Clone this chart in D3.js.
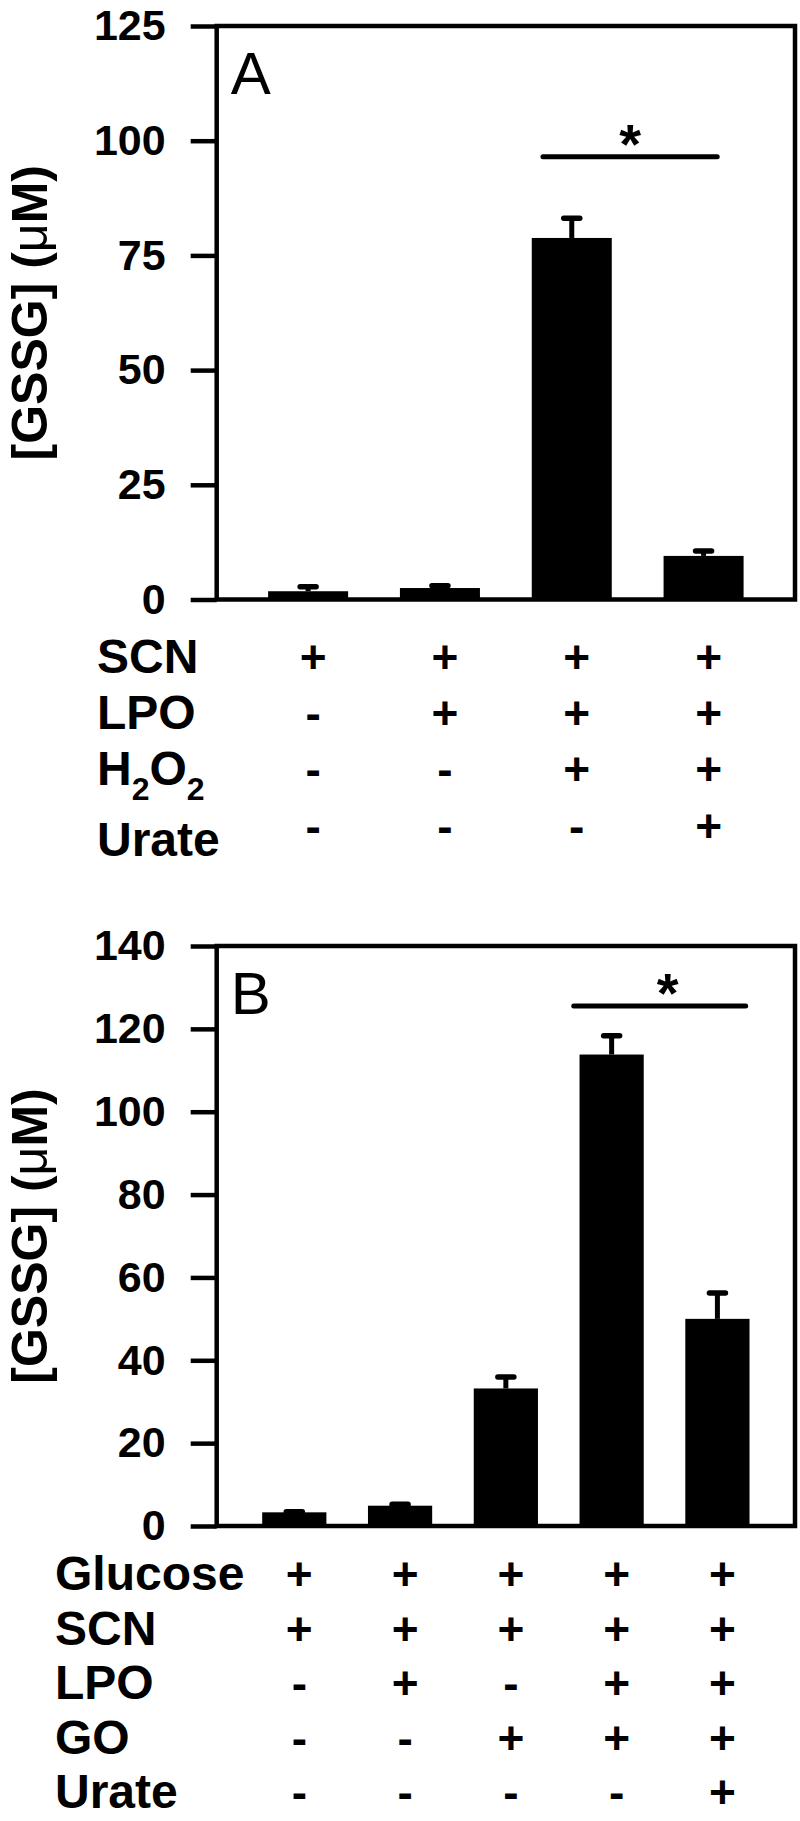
<!DOCTYPE html>
<html>
<head>
<meta charset="utf-8">
<script src="https://cdn.jsdelivr.net/npm/d3@7"></script>
<style>
  body { margin: 0; background: #fff; }
  text { font-family: "Liberation Sans", Arial, sans-serif; fill: #000; }
</style>
</head>
<body>
<svg id="chart" width="800" height="1821"></svg>
<script>
// panel A data
const catsA = ["a1", "a2", "a3", "a4"];
const meanA = [1.8, 2.5, 78.8, 9.5];
const errA = [1.2, 0.7, 4.5, 1.3];
const ticksA = [0, 25, 50, 75, 100, 125];
const rowsA = ["SCN", "LPO", "H2O2", "Urate"];
const signsA = [
  ["+", "+", "+", "+"],
  ["-", "+", "+", "+"],
  ["-", "-", "+", "+"],
  ["-", "-", "-", "+"]
];
const sigA = { from: 2, to: 3, level: 96.5 };

// panel B data
const catsB = ["b1", "b2", "b3", "b4", "b5"];
const meanB = [3.3, 4.9, 33.2, 113.8, 50.0];
const errB = [0.4, 0.6, 3.0, 4.8, 6.5];
const ticksB = [0, 20, 40, 60, 80, 100, 120, 140];
const rowsB = ["Glucose", "SCN", "LPO", "GO", "Urate"];
const signsB = [
  ["+", "+", "+", "+", "+"],
  ["+", "+", "+", "+", "+"],
  ["-", "+", "-", "+", "+"],
  ["-", "-", "+", "+", "+"],
  ["-", "-", "-", "-", "+"]
];
const sigB = { from: 3, to: 4, level: 125.5 };

const svg = d3.select("#chart");
const lw = 4.5;

function drawPanel(p) {
  const g = svg.append("g");

  const x = d3.scaleBand()
    .domain(p.cats)
    .range([p.left, p.right])
    .paddingInner(0.393)
    .paddingOuter(p.outer);

  const y = d3.scaleLinear()
    .domain([0, d3.max(p.ticks)])
    .range([p.bottom, p.top]);

  // y axis ticks + labels
  const axis = g.append("g")
    .attr("transform", `translate(${p.left},0)`)
    .call(d3.axisLeft(y).tickValues(p.ticks).tickSize(26).tickPadding(25));
  axis.select(".domain").remove();
  axis.selectAll(".tick line")
    .attr("stroke", "#000")
    .attr("stroke-width", lw);
  axis.selectAll(".tick text")
    .attr("fill", "#000")
    .style("font-family", "'Liberation Sans', Arial, sans-serif")
    .style("font-size", "43px")
    .style("font-weight", "bold");

  // bars
  g.selectAll(".bar")
    .data(p.mean)
    .enter()
    .append("rect")
    .attr("x", (d, i) => x(p.cats[i]))
    .attr("y", d => y(d))
    .attr("width", x.bandwidth())
    .attr("height", d => y(0) - y(d))
    .attr("fill", "#000");

  // error bars
  const cx = i => x(p.cats[i]) + x.bandwidth() / 2;
  g.selectAll(".stem")
    .data(p.mean)
    .enter()
    .append("line")
    .attr("x1", (d, i) => cx(i))
    .attr("x2", (d, i) => cx(i))
    .attr("y1", d => y(d))
    .attr("y2", (d, i) => y(d + p.err[i]))
    .attr("stroke", "#000")
    .attr("stroke-width", 5);
  g.selectAll(".cap")
    .data(p.mean)
    .enter()
    .append("line")
    .attr("x1", (d, i) => cx(i) - 8)
    .attr("x2", (d, i) => cx(i) + 8)
    .attr("y1", (d, i) => y(d + p.err[i]) + 1)
    .attr("y2", (d, i) => y(d + p.err[i]) + 1)
    .attr("stroke", "#000")
    .attr("stroke-width", 5.5)
    .attr("stroke-linecap", "round");

  // frame
  g.append("rect")
    .attr("x", p.left)
    .attr("y", y(d3.max(p.ticks)))
    .attr("width", p.right - p.left)
    .attr("height", y(0) - y(d3.max(p.ticks)))
    .attr("fill", "none")
    .attr("stroke", "#000")
    .attr("stroke-width", lw);

  // significance bar
  const sx0 = x(p.cats[p.sig.from]) + p.sigFrac[0] * x.bandwidth();
  const sx1 = x(p.cats[p.sig.to]) + p.sigFrac[1] * x.bandwidth();
  g.append("line")
    .attr("x1", sx0)
    .attr("x2", sx1)
    .attr("y1", y(p.sig.level))
    .attr("y2", y(p.sig.level))
    .attr("stroke", "#000")
    .attr("stroke-width", 5)
    .attr("stroke-linecap", "round");
  g.append("text")
    .attr("x", (sx0 + sx1) / 2 + p.starShift)
    .attr("y", y(p.sig.level) + 6)
    .attr("text-anchor", "middle")
    .style("font-size", "56px")
    .style("font-weight", "bold")
    .text("*");

  // panel letter
  g.append("text")
    .attr("x", p.left + 14)
    .attr("y", p.top + 68)
    .style("font-size", "60px")
    .text(p.letter);

  // y axis title
  const yt = g.append("text")
    .attr("transform", `translate(47,${(p.top + p.bottom) / 2}) rotate(-90)`)
    .attr("text-anchor", "middle")
    .style("font-size", "50px")
    .style("font-weight", "bold");
  yt.append("tspan").text("[GSSG] (");
  yt.append("tspan").style("font-weight", "normal").text("\u03bc");
  yt.append("tspan").text("M)");

  // condition table
  p.rows.forEach((name, r) => {
    const by = p.bottom + p.rowStart + r * p.rowGap;
    const lab = g.append("text")
      .attr("x", p.labelX)
      .attr("y", by + (p.labelShift[r] || 0))
      .style("font-size", "48px")
      .style("font-weight", "bold");
    if (name === "H2O2") {
      lab.append("tspan").text("H");
      lab.append("tspan").attr("dy", 15).style("font-size", "32px").text("2");
      lab.append("tspan").attr("dy", -15).text("O");
      lab.append("tspan").attr("dy", 15).style("font-size", "32px").text("2");
    } else {
      lab.text(name);
    }
    g.selectAll(null)
      .data(p.signs[r])
      .enter()
      .append("text")
      .attr("x", (d, i) => cx(i) + 5)
      .attr("y", by)
      .attr("text-anchor", "middle")
      .style("font-size", "46px")
      .style("font-weight", "bold")
      .text(d => d);
  });
}

drawPanel({
  letter: "A", cats: catsA, mean: meanA, err: errA, ticks: ticksA,
  rows: rowsA, signs: signsA, sig: sigA, sigFrac: [0.14, 0.67], starShift: 0,
  left: 216.7, right: 795, top: 26, bottom: 599.5, outer: 0.39,
  labelX: 97, rowStart: 73, rowGap: 56.4, labelShift: { 3: 14 }
});

drawPanel({
  letter: "B", cats: catsB, mean: meanB, err: errB, ticks: ticksB,
  rows: rowsB, signs: signsB, sig: sigB, sigFrac: [-0.09, 0.94], starShift: 8,
  left: 216.7, right: 795, top: 946, bottom: 1526, outer: 0.43,
  labelX: 55, rowStart: 64, rowGap: 54.5, labelShift: {}
});
</script>
</body>
</html>
